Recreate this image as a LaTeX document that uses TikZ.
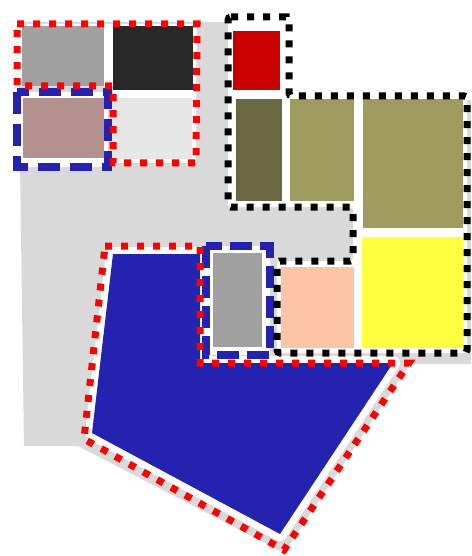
\documentclass[tikz,border=0pt]{standalone}
\usepackage{xcolor}
\definecolor{bg}{RGB}{217,217,217}
\definecolor{pblue}{RGB}{35,35,176}
\definecolor{pred}{RGB}{255,0,0}
\definecolor{bred}{RGB}{200,0,0}
\definecolor{dolive}{RGB}{107,105,65}
\definecolor{olive}{RGB}{160,156,96}
\definecolor{pyellow}{RGB}{255,255,64}
\definecolor{peach}{RGB}{255,195,165}
\definecolor{mgray}{RGB}{160,160,160}
\definecolor{dk}{RGB}{40,40,40}
\definecolor{rose}{RGB}{180,144,144}
\definecolor{lgray}{RGB}{230,230,230}
\tikzset{
 reddots/.style={draw=pred, line width=7pt, dash pattern=on 7pt off 9pt},
 blackdots/.style={draw=black, line width=7pt, dash pattern=on 7pt off 9pt, rounded corners=3pt},
 bluedash/.style={draw=pblue, line width=8pt, dash pattern=on 22pt off 10pt},
 bluedashs/.style={draw=pblue, line width=7.5pt, dash pattern=on 22pt off 8pt},
}
\begin{document}
\begin{tikzpicture}[x=1pt,y=-1pt]
\useasboundingbox (0,0) rectangle (471,556);
% background / shadow
\fill[bg] (18,22) -- (250,22) -- (250,100) -- (471,100) -- (471,364) -- (410,364) -- (284,553) -- (78,446) -- (24,446) -- cycle;
% top-left group
\fill[white] (17,24) -- (197,24) -- (196,163) -- (113,163) -- (113,86) -- (17,86) -- cycle;
\fill[white] (17,92) rectangle (108,167);
\fill[mgray] (22,26) rectangle (104,86);
\fill[dk] (113,26) rectangle (193,90);
\fill[rose] (23,98) rectangle (104,158);
\fill[lgray] (112,98) rectangle (192,159);
\draw[bluedash] (17,92) rectangle (108,167);
\draw[reddots] (17,24) -- (197,24) -- (196,163) -- (113,163) -- (113,86) -- (17,86) -- cycle;
% blue polygon
\draw[white, line width=14pt, line join=round] (113,254) -- (200,254) -- (200,363) -- (393,363) -- (280,534) -- (92,433) -- cycle;
\fill[pblue] (113,254) -- (200,254) -- (200,363) -- (393,363) -- (280,534) -- (92,433) -- cycle;
% small group
\fill[white] (206,246) rectangle (270,355);
\draw[bluedashs] (206,246) rectangle (270,355);
\filldraw[fill=mgray, draw=white, line width=1.5pt] (212,252) rectangle (263,348);
% red dotted outline of polygon
\draw[reddots] (105,246) -- (200,246) -- (200,363) -- (409,363) -- (284,550) -- (84,439) -- cycle;
% black group
\fill[white, rounded corners=3pt] (228,17) -- (289,17) -- (289,96) -- (467,96) -- (467,353) -- (277,353) -- (277,261) -- (353,261) -- (353,207) -- (228,207) -- cycle;
\fill[bred] (233,31) rectangle (280,90);
\fill[dolive] (236,99) rectangle (282,201);
\fill[olive] (290,99) rectangle (354,201);
\fill[olive] (363,99) rectangle (463,228);
\fill[pyellow] (362,237) rectangle (463,348);
\fill[peach] (281,267) rectangle (354,348);
\draw[blackdots] (228,17) -- (289,17) -- (289,96) -- (467,96) -- (467,353) -- (277,353) -- (277,261) -- (353,261) -- (353,207) -- (228,207) -- cycle;
\end{tikzpicture}
\end{document}
